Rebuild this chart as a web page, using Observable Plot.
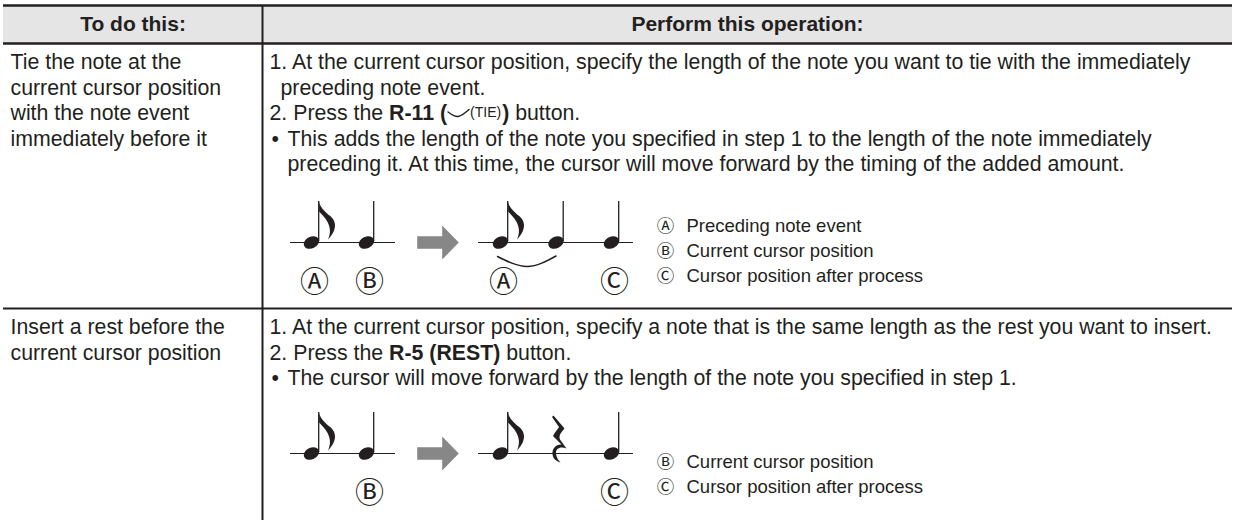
<!DOCTYPE html>
<html><head><meta charset="utf-8">
<script src="https://cdn.jsdelivr.net/npm/d3@7"></script>
<script src="https://cdn.jsdelivr.net/npm/@observablehq/plot@0.6"></script>
<style>html,body{margin:0;padding:0;background:#fff;}</style>
</head><body><div id="chart"></div>
<script>
// ---------------- data ----------------
const headers = ["To do this:", "Perform this operation:"];
const tasksTie = ["Tie the note at the", "current cursor position", "with the note event", "immediately before it"];
const tasksRest = ["Insert a rest before the", "current cursor position"];
const opsTie = [
  {kind: "step", text: "1. At the current cursor position, specify the length of the note you want to tie with the immediately"},
  {kind: "stepCont", text: "preceding note event."},
  {kind: "step", text: "2. Press the **R-11 (**⌣(TIE)**)** button."},
  {kind: "bullet", text: "This adds the length of the note you specified in step 1 to the length of the note immediately"},
  {kind: "bulletCont", text: "preceding it. At this time, the cursor will move forward by the timing of the added amount."}
];
const opsRest = [
  {kind: "step", text: "1. At the current cursor position, specify a note that is the same length as the rest you want to insert."},
  {kind: "step", text: "2. Press the **R-5 (REST)** button."},
  {kind: "bullet", text: "The cursor will move forward by the length of the note you specified in step 1."}
];
const beforeTie = ["eighth", "quarter"];
const afterTie = ["eighth", "quarter", "quarter"];
const tiedPair = [0, 1];
const beforeTieLabels = ["Ⓐ", "Ⓑ"];
const afterTieLabels = ["Ⓐ", null, "Ⓒ"];
const beforeRest = ["eighth", "quarter"];
const afterRest = ["eighth", "rest", "quarter"];
const beforeRestLabels = [null, "Ⓑ"];
const afterRestLabels = [null, null, "Ⓒ"];
const legendTie = [["Ⓐ", "Preceding note event"], ["Ⓑ", "Current cursor position"], ["Ⓒ", "Cursor position after process"]];
const legendRest = [["Ⓑ", "Current cursor position"], ["Ⓒ", "Cursor position after process"]];

// ---------------- layout ----------------
const W = 1235, H = 520;
const L = 3, R = 1232, D = 262;
const yTop = 5, yHead = 43, ySep = 308;
const headerY = 24;
const FONT = '"Liberation Sans", Arial, Helvetica, sans-serif';
const CIRC = '"Noto Sans CJK JP", "DejaVu Sans", sans-serif';
const INK = "#231f20";
const bodySize = 21.3, headSize = 21, smallSize = 14, legendSize = 18.5;
const pitch = 25.5;
const rowY0 = [62, 327];
const leftX = 10, rightX = D + 7;
const indent = {step: 0, stepCont: 11, bullet: 18, bulletCont: 18};
const bulletX = rightX + 2;
const staffY = [242, 453];
const leftStaff = [290, 395], rightStaff = [478, 633];
const leftHead0 = 311, leftSlot = 55, rightHead0 = 500, rightSlot = 55.5;
const arrowX = 437.5;
const legendSymX = 665, legendTextX = 686, legendPitch = 25;

// ---------------- text measuring ----------------
const ctx = document.createElement("canvas").getContext("2d");
function tw(t, size, weight) { ctx.font = `${weight} ${size}px "Liberation Sans"`; return ctx.measureText(t).width; }

function parseSegments(text) {
  const out = [];
  text.split("**").forEach((part, k) => {
    const bold = k % 2 === 1;
    const idx = part.indexOf("⌣(TIE)");
    if (idx >= 0) {
      if (idx > 0) out.push({t: part.slice(0, idx), bold});
      out.push({tie: true});
      out.push({t: "(TIE)", small: true});
      const rest = part.slice(idx + 6);
      if (rest) out.push({t: rest, bold});
    } else if (part) out.push({t: part, bold});
  });
  return out;
}

const regular = [], bold = [], small = [], tieGlyph = [];
const headerTexts = [
  {x: (L + D) / 2, y: headerY, t: headers[0]},
  {x: (D + R) / 2, y: headerY, t: headers[1]}
];
[tasksTie, tasksRest].forEach((lines, r) => lines.forEach((t, i) => regular.push({x: leftX, y: rowY0[r] + i * pitch, t})));
[opsTie, opsRest].forEach((lines, r) => lines.forEach((ln, i) => {
  const y = rowY0[r] + i * pitch;
  let x = rightX + indent[ln.kind];
  if (ln.kind === "bullet") regular.push({x: bulletX, y, t: "•"});
  parseSegments(ln.text).forEach((seg, si) => {
    if (seg.tie) {
      const id = "tie" + r + i + si;
      tieGlyph.push({x: x + 1, y: y - 1.5, id}, {x: x + 11, y: y + 3, id}, {x: x + 22, y: y - 4, id});
      x += 23;
      return;
    }
    const size = seg.small ? smallSize : bodySize;
    const weight = seg.bold ? "bold" : "normal";
    const lead = seg.t.match(/^\s*/)[0];
    x += tw(lead, size, weight);
    const t = seg.t.slice(lead.length);
    (seg.small ? small : seg.bold ? bold : regular).push({x, y: seg.small ? y - 1 : y, t});
    x += tw(t, size, weight) + (seg.small ? 1 : 0);
  });
}));

// ---------------- diagrams ----------------
const staffs = [], heads = [], stems = [], flags = [], rests = [], arrows = [], tieArcs = [], labels = [], legendSyms = [], legendTexts = [];
function placeGroup(notes, noteLabels, head0, slot, sy, tie, gid) {
  const xs = notes.map((n, i) => head0 + i * slot);
  notes.forEach((n, i) => {
    const hx = xs[i];
    if (n === "rest") { rests.push({x: hx + 3, y: sy - 14.5}); return; }
    heads.push({x: hx, y: sy});
    stems.push({x: hx + 7.2, y1: sy - 1, y2: sy - 41});
    if (n === "eighth") flags.push({x: hx + 7.6, y: sy - 41});
  });
  noteLabels.forEach((lab, i) => { if (lab) labels.push({x: xs[i] + 3, y: sy + 40, t: lab}); });
  if (tie) {
    const a = xs[tie[0]], b = xs[tie[1]], id = gid;
    tieArcs.push({x: a - 3, y: sy + 14, id}, {x: (a + b) / 2 - 1, y: sy + 24, id}, {x: b, y: sy + 13.5, id});
  }
}
[[beforeTie, beforeTieLabels, afterTie, afterTieLabels, tiedPair, legendTie],
 [beforeRest, beforeRestLabels, afterRest, afterRestLabels, null, legendRest]].forEach(([bn, bl, an, al, tie, leg], r) => {
  const sy = staffY[r];
  staffs.push({x1: leftStaff[0], x2: leftStaff[1], y: sy}, {x1: rightStaff[0], x2: rightStaff[1], y: sy});
  placeGroup(bn, bl, leftHead0, leftSlot, sy, null, "b" + r);
  placeGroup(an, al, rightHead0, rightSlot, sy, tie, "a" + r);
  arrows.push({x: arrowX, y: sy});
  leg.forEach(([sym, t], i) => {
    const y = sy + 34 - (leg.length - 1 - i) * legendPitch;
    legendSyms.push({x: legendSymX, y, t: sym});
    legendTexts.push({x: legendTextX, y, t});
  });
});

// ---------------- symbols ----------------
function ellipse(c, rx, ry, deg) {
  const k = 0.5522847498, a = deg * Math.PI / 180, co = Math.cos(a), si = Math.sin(a);
  const T = (x, y) => [x * co - y * si, x * si + y * co];
  const p = [[rx,0],[rx,ry*k],[rx*k,ry],[0,ry],[-rx*k,ry],[-rx,ry*k],[-rx,0],[-rx,-ry*k],[-rx*k,-ry],[0,-ry],[rx*k,-ry],[rx,-ry*k],[rx,0]];
  c.moveTo(...T(...p[0]));
  for (let i = 1; i < p.length; i += 3) c.bezierCurveTo(...T(...p[i]), ...T(...p[i+1]), ...T(...p[i+2]));
  c.closePath();
}
const noteHead = {draw(c) { ellipse(c, 8, 5.8, -25); }};
const flagSym = {draw(c) {
  c.moveTo(0, 0);
  c.bezierCurveTo(0.5, 5, 5, 9, 9, 13);
  c.bezierCurveTo(17, 18, 19.5, 27, 9, 38);
  c.bezierCurveTo(13, 28, 11, 21, 0, 10);
  c.closePath();
}};
const restSym = {draw(c) {
  c.moveTo(-5.5, -23.5);
  c.lineTo(5.5, -10.5);
  c.bezierCurveTo(2, -6.5, -0.5, -3.5, 1, 0.5);
  c.lineTo(7.5, 9.5);
  c.bezierCurveTo(1.5, 7, -3.5, 9.5, -3, 14.5);
  c.bezierCurveTo(-2.7, 18, -1, 21, 1.5, 23.5);
  c.bezierCurveTo(-4.5, 22, -7, 17.5, -6.5, 13);
  c.bezierCurveTo(-6, 8, -1.5, 5, 2.5, 5.5);
  c.lineTo(-6, -3);
  c.bezierCurveTo(-4, -7, -1.5, -9.5, 0, -12);
  c.lineTo(-7, -22);
  c.closePath();
}};
const arrowSym = {draw(c) {
  c.moveTo(-20.8, -6.3); c.lineTo(4.2, -6.3); c.lineTo(4.2, -17); c.lineTo(20.8, 0);
  c.lineTo(4.2, 17); c.lineTo(4.2, 6.3); c.lineTo(-20.8, 6.3); c.closePath();
}};

const hLines = [{x1: L, x2: R, y: yTop, w: 2.6}, {x1: L, x2: R, y: yHead, w: 2.6}, {x1: L, x2: R, y: ySep, w: 2.2}];
const vLines = [{x: D, y1: yTop, y2: H}];
const headerBand = [{x1: L, x2: R, y1: yTop, y2: yHead}];

const chart = Plot.plot({
  width: W, height: H, margin: 0,
  x: {domain: [0, W], range: [0, W], axis: null},
  y: {domain: [0, H], range: [0, H], axis: null},
  style: {fontFamily: FONT, background: "#fff", color: INK},
  marks: [
    Plot.rect(headerBand, {x1: "x1", x2: "x2", y1: "y1", y2: "y2", fill: "#e5e5e5"}),
    Plot.ruleY(hLines, {y: "y", x1: "x1", x2: "x2", strokeWidth: "w", stroke: INK}),
    Plot.ruleX(vLines, {x: "x", y1: "y1", y2: "y2", strokeWidth: 2, stroke: INK}),
    Plot.text(headerTexts, {x: "x", y: "y", text: "t", fontSize: headSize, fontWeight: "bold", fill: INK, lineAnchor: "middle"}),
    Plot.text(regular, {x: "x", y: "y", text: "t", fontSize: bodySize, textAnchor: "start", lineAnchor: "middle", fill: INK}),
    Plot.text(bold, {x: "x", y: "y", text: "t", fontSize: bodySize, fontWeight: "bold", textAnchor: "start", lineAnchor: "middle", fill: INK}),
    Plot.text(small, {x: "x", y: "y", text: "t", fontSize: smallSize, textAnchor: "start", lineAnchor: "middle", fill: INK}),
    Plot.line(tieGlyph, {x: "x", y: "y", z: "id", curve: "natural", stroke: INK, strokeWidth: 1.4}),
    Plot.ruleY(staffs, {y: "y", x1: "x1", x2: "x2", stroke: INK, strokeWidth: 1.2}),
    Plot.ruleX(stems, {x: "x", y1: "y1", y2: "y2", stroke: INK, strokeWidth: 1.3}),
    Plot.dot(heads, {x: "x", y: "y", r: 1, symbol: noteHead, fill: INK, stroke: "none"}),
    Plot.dot(flags, {x: "x", y: "y", r: 1, symbol: flagSym, fill: INK, stroke: "none"}),
    Plot.dot(rests, {x: "x", y: "y", r: 1, symbol: restSym, fill: INK, stroke: "none"}),
    Plot.dot(arrows, {x: "x", y: "y", r: 1, symbol: arrowSym, fill: "#878787", stroke: "none"}),
    Plot.line(tieArcs, {x: "x", y: "y", z: "id", curve: "natural", stroke: INK, strokeWidth: 1.5}),
    Plot.text(labels, {x: "x", y: "y", text: "t", fontSize: 29, fontFamily: CIRC, lineAnchor: "middle", fill: INK}),
    Plot.text(legendSyms, {x: "x", y: "y", text: "t", fontSize: 17.5, fontFamily: CIRC, lineAnchor: "middle", fill: INK}),
    Plot.text(legendTexts, {x: "x", y: "y", text: "t", fontSize: legendSize, textAnchor: "start", lineAnchor: "middle", fill: INK})
  ]
});
document.getElementById("chart").appendChild(chart);
</script>
</body></html>
